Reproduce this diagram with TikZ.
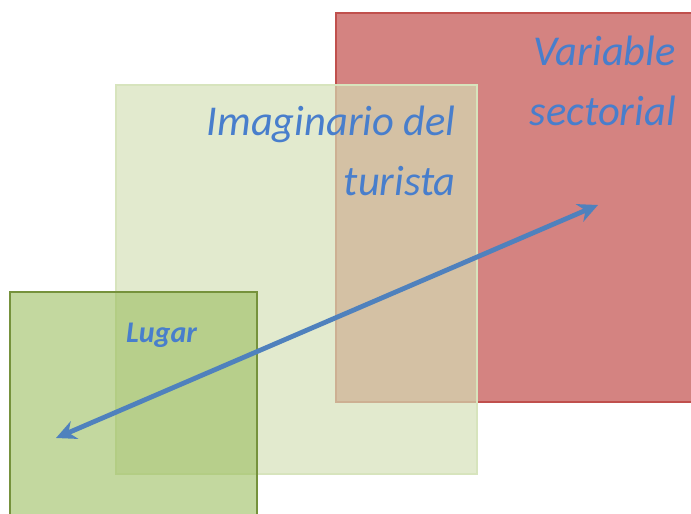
\documentclass[tikz,border=0pt]{standalone}
\usepackage{fontspec}
\setmainfont{Carlito}
\usetikzlibrary{arrows.meta}
\definecolor{redfill}{RGB}{212,131,129}
\definecolor{redline}{RGB}{192,80,77}
\definecolor{lgfill}{RGB}{212,224,182}
\definecolor{lgline}{RGB}{215,228,189}
\definecolor{dgfill}{RGB}{155,190,95}
\definecolor{dgline}{RGB}{118,146,60}
\definecolor{txtblue}{RGB}{72,126,204}
\definecolor{arrblue}{RGB}{79,129,189}
\begin{document}
\begin{tikzpicture}[x=1pt,y=-1pt,
  lbl/.style={text=txtblue,font=\itshape\fontsize{42.5}{60}\selectfont,align=right,inner sep=0pt},
  box/.style={line width=1.2pt}]
\useasboundingbox (0,0) rectangle (691,514);
\fill[white] (0,0) rectangle (691,514);
\path[box,fill=redfill,draw=redline] (336,13) rectangle (700,402);
\path[box,fill=lgfill,fill opacity=0.67,draw=lgline] (116,85) rectangle (477,474);
\path[box,fill=dgfill,fill opacity=0.6,draw=dgline] (10,292) rectangle (257,520);
\node[lbl,anchor=base east] (vs1) at (676,65) {Variable};
\node[lbl,anchor=base east] (vs2) at (676,125) {sectorial};
\node[lbl,anchor=base east] (im1) at (456,135) {Imaginario del};
\node[lbl,anchor=base east] (im2) at (456,195) {turista};
\node[text=txtblue,font=\bfseries\itshape\fontsize{30}{30}\selectfont,anchor=base west,inner sep=0pt] (lug) at (126,342) {Lugar};
\coordinate (a) at (56,438);
\coordinate (b) at (598,205);
\draw[arrblue,line width=4.8pt,{Stealth[length=20pt,width=19pt]}-{Stealth[length=20pt,width=19pt]}] (a) -- (b);
\end{tikzpicture}
\end{document}
